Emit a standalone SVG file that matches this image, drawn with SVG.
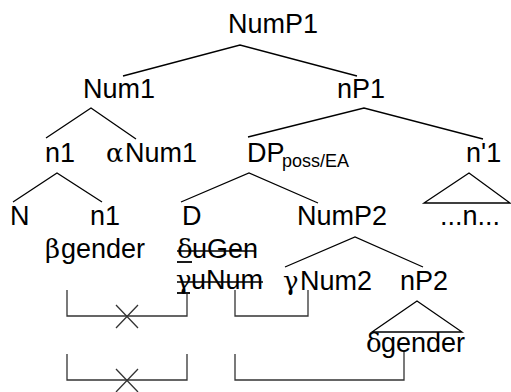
<svg xmlns="http://www.w3.org/2000/svg" width="511" height="392" viewBox="0 0 511 392">
<style>
text{font-family:"Liberation Sans",Arial,sans-serif;font-size:27px;fill:#000}
.g{font-family:"DejaVu Serif","Liberation Serif",serif;font-size:26px}
.sub{font-size:18px}
.t{stroke:#000;stroke-width:1.3;fill:none}
.b{stroke:#333;stroke-width:1.3;fill:none}
.u{stroke:#000;stroke-width:1.8}
</style>
<rect width="511" height="392" fill="#fff"/>
<g id="connectors">
<path class="t" d="M123,76 L240,45 L357,76"/>
<path class="t" d="M46,138 L91,108 L136,139"/>
<path class="t" d="M248,137 L364,108 L483,139"/>
<path class="t" d="M13,202 L57,173 L102,202"/>
<path class="t" d="M181,202 L249,173 L318,203"/>
<path class="t" d="M424,203 L469,173 L510,203 Z"/>
<path class="t" d="M285,267 L355,237 L423,267"/>
<path class="t" d="M372,332 L417,301 L462,332 Z"/>
<path class="b" d="M67,290 V316 H187 V294"/>
<path class="b" d="M116,305 L138,328 M138,305 L116,328"/>
<path class="b" d="M235,290 V316 H308 V290"/>
<path class="b" d="M67,354 V380 H187 V354"/>
<path class="b" d="M116,369 L138,392 M138,369 L116,392"/>
<path class="b" d="M235,354 V380 H404 V352"/>
</g>
<g id="NumP1"><text x="228" y="33">NumP1</text></g>
<g id="Num1"><text x="83" y="98">Num1</text></g>
<g id="nP1"><text x="337" y="98">nP1</text></g>
<g id="n1-top"><text x="45" y="162">n1</text></g>
<g id="aNum1"><text y="162"><tspan class="g" x="106">α</tspan><tspan x="125">Num1</tspan></text></g>
<g id="DP"><text x="247" y="162">DP<tspan class="sub" x="282" y="167">poss/EA</tspan></text></g>
<g id="n-bar1"><text x="466" y="162">n'1</text></g>
<g id="N"><text x="10" y="225">N</text></g>
<g id="n1-low"><text x="90" y="225">n1</text>
<text y="258"><tspan class="g" x="45">β</tspan><tspan x="61">gender</tspan></text></g>
<g id="D"><text x="182" y="225">D</text>
<text y="258"><tspan class="g" x="177">δ</tspan><tspan x="192">uGen</tspan></text>
<line class="t" x1="177" y1="251" x2="256" y2="251"/>
<line class="u" x1="177" y1="262" x2="192" y2="262"/>
<text y="289"><tspan class="g" x="176">γ</tspan><tspan x="191">uNum</tspan></text>
<line class="t" x1="177" y1="282" x2="263" y2="282"/>
<line class="u" x1="177" y1="293" x2="190" y2="293"/></g>
<g id="NumP2"><text x="297" y="225">NumP2</text></g>
<g id="n-dots"><text x="440" y="225">...n...</text></g>
<g id="gNum2"><text y="290"><tspan class="g" x="283">γ</tspan><tspan x="300">Num2</tspan></text></g>
<g id="nP2"><text x="400" y="290">nP2</text></g>
<g id="dgender"><text y="352"><tspan class="g" x="366">δ</tspan><tspan x="381">gender</tspan></text></g>
</svg>
